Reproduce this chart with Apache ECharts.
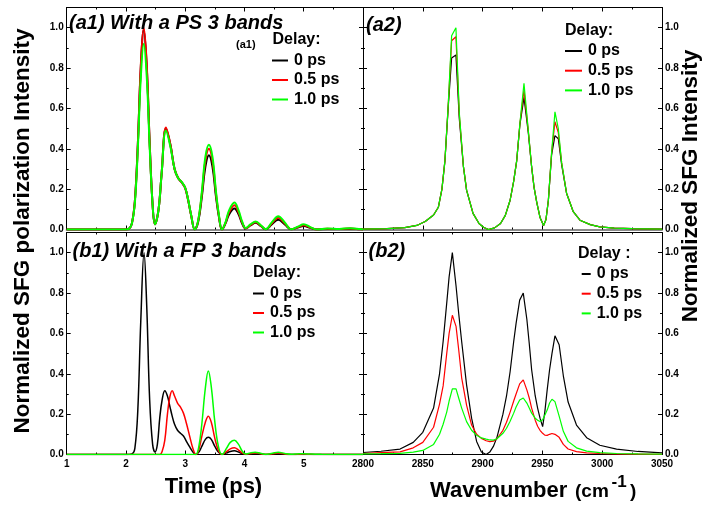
<!DOCTYPE html>
<html>
<head>
<meta charset="utf-8">
<script src="https://cdn.jsdelivr.net/npm/echarts@6/dist/echarts.min.js"></script>
<style>
html,body{margin:0;padding:0;background:#fff;}
#c{width:702px;height:509px;}
</style>
</head>
<body>
<div id="c"></div>
<script>
// ---------- DATA ----------
var seriesNames = ['0 ps', '0.5 ps', '1.0 ps'];
var timeTicks = [1, 2, 3, 4, 5];
var wavenumberTicks = [2800, 2850, 2900, 2950, 3000, 3050];
var intensityTicks = [0.0, 0.2, 0.4, 0.6, 0.8, 1.0];

// (a1) time domain, PS 3 bands
var tA = [1, 2, 2.05, 2.10, 2.15, 2.20, 2.25, 2.30, 2.35, 2.40,
  2.45, 2.49, 2.55, 2.60, 2.675, 2.75, 2.82, 2.88, 2.94, 3.00,
  3.05, 3.10, 3.16, 3.22, 3.28, 3.34, 3.40, 3.46, 3.52, 3.57,
  3.62, 3.68, 3.74, 3.83, 3.90, 3.96, 4.02, 4.10, 4.19, 4.28,
  4.36, 4.46, 4.57, 4.68, 4.79, 4.90, 5.00, 5.11, 5.22, 5.40,
  5.60, 5.78, 5.95, 6];
var a1Black = [0, 0, 0.003, 0.03, 0.14, 0.42, 0.80, 0.99, 0.81, 0.43,
  0.12, 0.026, 0.10, 0.27, 0.50, 0.42, 0.30, 0.255, 0.234, 0.205,
  0.145, 0.07, 0.0, 0.04, 0.16, 0.31, 0.368, 0.31, 0.16, 0.06,
  0.0, 0.03, 0.075, 0.104, 0.075, 0.03, 0.005, 0.02, 0.033, 0.016,
  0.001, 0.025, 0.048, 0.025, 0.001, 0.01, 0.017, 0.008, 0.0, 0.003,
  0.002, 0.004, 0.001, 0];
var a1Red = [0, 0, 0.003, 0.03, 0.14, 0.42, 0.81, 1.0, 0.82, 0.43,
  0.12, 0.026, 0.10, 0.27, 0.505, 0.42, 0.30, 0.255, 0.234, 0.205,
  0.145, 0.07, 0.0, 0.045, 0.175, 0.34, 0.40, 0.34, 0.175, 0.065,
  0.0, 0.033, 0.085, 0.12, 0.085, 0.035, 0.006, 0.022, 0.036, 0.018,
  0.001, 0.03, 0.058, 0.03, 0.001, 0.012, 0.021, 0.01, 0.0, 0.004,
  0.002, 0.005, 0.001, 0];
var a1Green = [0, 0, 0.003, 0.03, 0.13, 0.40, 0.75, 0.92, 0.76, 0.41,
  0.12, 0.026, 0.10, 0.27, 0.49, 0.41, 0.30, 0.255, 0.236, 0.207,
  0.147, 0.072, 0.0, 0.048, 0.185, 0.36, 0.42, 0.36, 0.185, 0.07,
  0.0, 0.036, 0.095, 0.134, 0.095, 0.04, 0.007, 0.025, 0.04, 0.02,
  0.001, 0.035, 0.066, 0.035, 0.001, 0.014, 0.026, 0.012, 0.0, 0.005,
  0.003, 0.006, 0.002, 0];

// (b1) time domain, FP 3 bands
var tB = [1, 2.0, 2.10, 2.15, 2.20, 2.25, 2.305, 2.35, 2.40, 2.45,
  2.49, 2.53, 2.57, 2.61, 2.655, 2.70, 2.74, 2.78, 2.82, 2.87,
  2.92, 2.97, 3.02, 3.08, 3.13, 3.18, 3.23, 3.28, 3.34, 3.39,
  3.44, 3.50, 3.56, 3.62, 3.70, 3.76, 3.83, 3.90, 3.96, 4.02,
  4.10, 4.18, 4.27, 4.36, 4.47, 4.57, 4.68, 4.79, 4.90, 5.00,
  5.12, 5.30, 6];
var b1Black = [0, 0, 0.003, 0.03, 0.22, 0.66, 1.0, 0.74, 0.27, 0.05,
  0.013, 0.05, 0.18, 0.27, 0.316, 0.29, 0.24, 0.19, 0.15, 0.12,
  0.105, 0.092, 0.065, 0.035, 0.012, 0.0, 0.012, 0.04, 0.075, 0.085,
  0.075, 0.04, 0.012, 0.0, 0.008, 0.015, 0.018, 0.012, 0.004, 0.0,
  0.002, 0.003, 0.001, 0.0, 0.001, 0.002, 0.001, 0, 0, 0,
  0, 0, 0];
var b1Red = [0, 0, 0, 0, 0, 0, 0, 0, 0, 0,
  0, 0, 0, 0.015, 0.07, 0.2, 0.285, 0.316, 0.29, 0.255,
  0.235, 0.205, 0.155, 0.085, 0.03, 0.0, 0.025, 0.09, 0.16, 0.19,
  0.16, 0.08, 0.02, 0.0, 0.015, 0.028, 0.033, 0.022, 0.008, 0.001,
  0.005, 0.008, 0.004, 0.0, 0.004, 0.007, 0.003, 0, 0.001, 0.002,
  0.001, 0, 0];
var b1Green = [0, 0, 0, 0, 0, 0, 0, 0, 0, 0,
  0, 0, 0, 0, 0, 0, 0, 0, 0, 0,
  0, 0, 0, 0, 0, 0.0, 0.04, 0.15, 0.33, 0.414,
  0.335, 0.16, 0.04, 0.0, 0.032, 0.06, 0.071, 0.05, 0.018, 0.002,
  0.008, 0.011, 0.006, 0.001, 0.006, 0.011, 0.005, 0.001, 0.003, 0.004,
  0.002, 0.001, 0];

// (a2) spectra, PS 3 bands
var wA = [2800, 2820, 2835, 2845, 2852, 2859, 2863, 2866, 2868.5, 2871.3,
  2874.1, 2877.7, 2880.5, 2884, 2886.6, 2892, 2897, 2901, 2905, 2910,
  2915, 2919, 2923, 2926, 2928.5, 2931.2, 2934.6, 2938.2, 2941, 2943,
  2945.2, 2948, 2951, 2953, 2955, 2957.7, 2960.5, 2963.3, 2966.1, 2970.2,
  2975.8, 2981.4, 2990, 2998, 3010, 3025, 3050];
var a2Black = [0.002, 0.004, 0.009, 0.02, 0.04, 0.072, 0.11, 0.2, 0.34, 0.61,
  0.85, 0.865, 0.55, 0.31, 0.195, 0.08, 0.03, 0.01, 0.0, 0.008,
  0.03, 0.07, 0.145, 0.24, 0.34, 0.52, 0.655, 0.48, 0.31, 0.21,
  0.137, 0.06, 0.02, 0.05, 0.145, 0.37, 0.465, 0.45, 0.32, 0.18,
  0.088, 0.046, 0.024, 0.013, 0.007, 0.004, 0.002];
var a2Red = [0.002, 0.004, 0.009, 0.02, 0.04, 0.072, 0.11, 0.2, 0.34, 0.62,
  0.935, 0.955, 0.57, 0.31, 0.195, 0.08, 0.03, 0.01, 0.0, 0.008,
  0.03, 0.07, 0.145, 0.24, 0.34, 0.525, 0.69, 0.49, 0.31, 0.21,
  0.137, 0.06, 0.02, 0.05, 0.145, 0.38, 0.534, 0.48, 0.33, 0.18,
  0.088, 0.046, 0.024, 0.013, 0.007, 0.004, 0.002];
var a2Green = [0.002, 0.004, 0.009, 0.02, 0.04, 0.072, 0.11, 0.2, 0.34, 0.62,
  0.96, 1.0, 0.58, 0.31, 0.195, 0.08, 0.03, 0.01, 0.0, 0.008,
  0.03, 0.07, 0.145, 0.24, 0.34, 0.525, 0.724, 0.49, 0.31, 0.21,
  0.137, 0.06, 0.02, 0.05, 0.145, 0.38, 0.583, 0.50, 0.33, 0.18,
  0.088, 0.046, 0.024, 0.013, 0.007, 0.004, 0.002];

// (b2) spectra, FP 3 bands
var wB = [2800, 2815, 2831, 2842, 2850, 2859, 2864, 2867, 2870, 2872,
  2874.7, 2877.8, 2880, 2882.5, 2886.6, 2890.8, 2895, 2899, 2903, 2906,
  2909, 2912, 2917, 2920, 2923, 2926, 2928, 2931, 2934, 2937,
  2939, 2941, 2944, 2946, 2948, 2950.2, 2952, 2954, 2956, 2958,
  2960.5, 2964, 2967.5, 2971.5, 2978.5, 2987, 2998, 3012, 3030, 3050];
var b2Black = [0.01, 0.016, 0.027, 0.06, 0.11, 0.23, 0.40, 0.56, 0.75, 0.88,
  1.0, 0.835, 0.70, 0.56, 0.345, 0.18, 0.065, 0.012, 0.0, 0.012,
  0.04, 0.085, 0.20, 0.29, 0.41, 0.56, 0.65, 0.765, 0.80, 0.67,
  0.55, 0.42, 0.29, 0.23, 0.18, 0.138, 0.21, 0.32, 0.42, 0.50,
  0.588, 0.544, 0.39, 0.26, 0.146, 0.083, 0.046, 0.027, 0.015, 0.008];
var b2Red = [0.005, 0.009, 0.013, 0.033, 0.06, 0.135, 0.25, 0.34, 0.50, 0.60,
  0.69, 0.635, 0.52, 0.38, 0.245, 0.146, 0.10, 0.08, 0.068, 0.064,
  0.066, 0.078, 0.12, 0.16, 0.21, 0.265, 0.30, 0.35, 0.37, 0.32,
  0.28, 0.23, 0.17, 0.14, 0.12, 0.105, 0.096, 0.095, 0.10, 0.104,
  0.10, 0.085, 0.05, 0.027, 0.014, 0.008, 0.005, 0.003, 0.002, 0.001];
var b2Green = [0.003, 0.004, 0.006, 0.012, 0.02, 0.05, 0.10, 0.15, 0.21, 0.265,
  0.325, 0.325, 0.28, 0.23, 0.163, 0.12, 0.095, 0.082, 0.076, 0.072,
  0.071, 0.078, 0.105, 0.13, 0.165, 0.205, 0.235, 0.27, 0.28, 0.255,
  0.23, 0.205, 0.18, 0.17, 0.163, 0.172, 0.195, 0.22, 0.255, 0.274,
  0.262, 0.19, 0.115, 0.065, 0.033, 0.017, 0.009, 0.005, 0.003, 0.002];

// ---------- CHART ----------
var FONT = '"Liberation Sans", Arial, Helvetica, sans-serif';
var COLORS = ['#000000', '#ff0000', '#00ff00'];
function pairs(xs, ys) { return xs.map(function (x, i) { return [x, ys[i]]; }); }

var grids = [
  { left: 66.7, top: 7.5, width: 296.3, height: 222 },   // a1
  { left: 363, top: 7.5, width: 299, height: 222 },      // a2
  { left: 66.7, top: 232.5, width: 296.3, height: 222 }, // b1
  { left: 363, top: 232.5, width: 299, height: 222 }     // b2
];

function yAxis(gi, pos, labels) {
  return {
    type: 'value', gridIndex: gi, position: pos, min: 0, max: 1.1, interval: 0.2,
    axisLine: { show: true, onZero: false, lineStyle: { color: '#000', width: 1 } },
    axisTick: { show: true, inside: true, length: 4, lineStyle: { color: '#000' } },
    minorTick: { show: true, splitNumber: 2, length: 2, lineStyle: { color: '#000' } },
    splitLine: { show: false },
    axisLabel: {
      show: labels, fontFamily: FONT, fontSize: 10, fontWeight: 'bold', color: '#000', margin: 3,
      formatter: function (v) { return v > 1.05 ? '' : v.toFixed(1); }
    }
  };
}
function xAxis(gi, pos, isTime, labels, lineColor, lineWidth) {
  return {
    type: 'value', gridIndex: gi, position: pos,
    min: isTime ? timeTicks[0] : wavenumberTicks[0],
    max: isTime ? 6 : wavenumberTicks[wavenumberTicks.length - 1],
    interval: isTime ? 1 : 50,
    axisLine: { show: true, onZero: false, lineStyle: { color: lineColor || '#000', width: lineWidth || 1 } },
    axisTick: { show: true, inside: true, length: 4, lineStyle: { color: '#000' } },
    minorTick: { show: true, splitNumber: 2, length: 2, lineStyle: { color: '#000' } },
    splitLine: { show: false },
    axisLabel: {
      show: labels, fontFamily: FONT, fontSize: 10, fontWeight: 'bold', color: '#000', margin: 5,
      formatter: function (v) {
        if (isTime) return timeTicks.indexOf(v) >= 0 ? String(v) : '';
        return String(v);
      }
    }
  };
}

var xAxes = [
  xAxis(0, 'bottom', true, false, '#8a8a8a', 2),
  xAxis(1, 'bottom', false, false, '#8a8a8a', 2),
  xAxis(2, 'bottom', true, true),
  xAxis(3, 'bottom', false, true),
  xAxis(0, 'top', true, false),
  xAxis(1, 'top', false, false),
  xAxis(2, 'top', true, false),
  xAxis(3, 'top', false, false)
];
var yAxes = [
  yAxis(0, 'left', true),
  yAxis(1, 'right', true),
  yAxis(2, 'left', true),
  yAxis(3, 'right', true),
  yAxis(0, 'right', false),
  yAxis(1, 'left', false),
  yAxis(2, 'right', false),
  yAxis(3, 'left', false)
];

function mk(name, gi, xs, ys, color, width, smooth) {
  return {
    name: name, type: 'line', xAxisIndex: gi, yAxisIndex: gi,
    data: pairs(xs, ys), showSymbol: false, symbol: 'none',
    smooth: smooth ? 0.4 : false, clip: true,
    lineStyle: { color: color, width: width },
    itemStyle: { color: color },
    animation: false
  };
}

var series = [
  mk(seriesNames[0], 0, tA, a1Black, COLORS[0], 2, true),
  mk(seriesNames[1], 0, tA, a1Red, COLORS[1], 2, true),
  mk(seriesNames[2], 0, tA, a1Green, COLORS[2], 2, true),
  mk(seriesNames[0], 1, wA, a2Black, COLORS[0], 1.2, false),
  mk(seriesNames[1], 1, wA, a2Red, COLORS[1], 1.2, false),
  mk(seriesNames[2], 1, wA, a2Green, COLORS[2], 1.2, false),
  mk(seriesNames[0], 2, tB, b1Black, COLORS[0], 1.5, true),
  mk(seriesNames[1], 2, tB, b1Red, COLORS[1], 1.5, true),
  mk(seriesNames[2], 2, tB, b1Green, COLORS[2], 1.5, true),
  mk(seriesNames[0], 3, wB, b2Black, COLORS[0], 1.2, false),
  mk(seriesNames[1], 3, wB, b2Red, COLORS[1], 1.2, false),
  mk(seriesNames[2], 3, wB, b2Green, COLORS[2], 1.2, false)
];

function legend(left, top, iconW, gap) {
  return {
    data: seriesNames, orient: 'vertical', left: left, top: top,
    icon: 'rect', itemWidth: iconW, itemHeight: 2, itemGap: gap, padding: 0,
    selectedMode: false,
    textStyle: { fontFamily: FONT, fontSize: 16, fontWeight: 'bold', color: '#000', padding: [0, 0, 0, 1] }
  };
}

function txt(x, y, text, size, opts) {
  opts = opts || {};
  return {
    type: 'text', x: x, y: y, rotation: opts.rot || 0, silent: true, z: 100,
    style: {
      text: text, fill: '#000', fontFamily: FONT, fontSize: size,
      fontWeight: 'bold', fontStyle: opts.italic ? 'italic' : 'normal',
      align: opts.align || 'left', verticalAlign: 'middle'
    }
  };
}

var graphics = [
  txt(69, 23, '(a1) With a PS 3 bands', 20, { italic: true }),
  txt(366, 25.5, '(a2)', 20, { italic: true }),
  txt(72.5, 251, '(b1) With a FP 3 bands', 20, { italic: true }),
  txt(368.5, 251, '(b2)', 20, { italic: true }),
  txt(236, 44.5, '(a1)', 11),
  txt(272.5, 40, 'Delay:', 16),
  txt(565, 30.5, 'Delay:', 16),
  txt(253, 272.5, 'Delay:', 16),
  txt(578, 253.3, 'Delay :', 16),
  txt(22.5, 231, 'Normalized SFG polarization Intensity', 22.5, { rot: Math.PI / 2, align: 'center' }),
  txt(691, 186, 'Normalized SFG Intensity', 22.5, { rot: Math.PI / 2, align: 'center' }),
  txt(213.5, 487, 'Time (ps)', 22, { align: 'center' }),
  txt(430, 491, 'Wavenumber', 22),
  txt(575, 491.5, '(cm', 19),
  txt(611.5, 482.5, '-1', 17),
  txt(630, 491.5, ')', 19)
];

var chart = echarts.init(document.getElementById('c'), null, { renderer: 'canvas' });
chart.setOption({
  animation: false,
  backgroundColor: '#ffffff',
  grid: grids,
  xAxis: xAxes,
  yAxis: yAxes,
  legend: [
    legend(272, 52.5, 16, 3.5),
    legend(565, 43, 17, 3.7),
    legend(253, 285.5, 11, 3.5),
    legend(581.7, 266, 9, 3.7)
  ],
  series: series,
  graphic: graphics
});
</script>
</body>
</html>
